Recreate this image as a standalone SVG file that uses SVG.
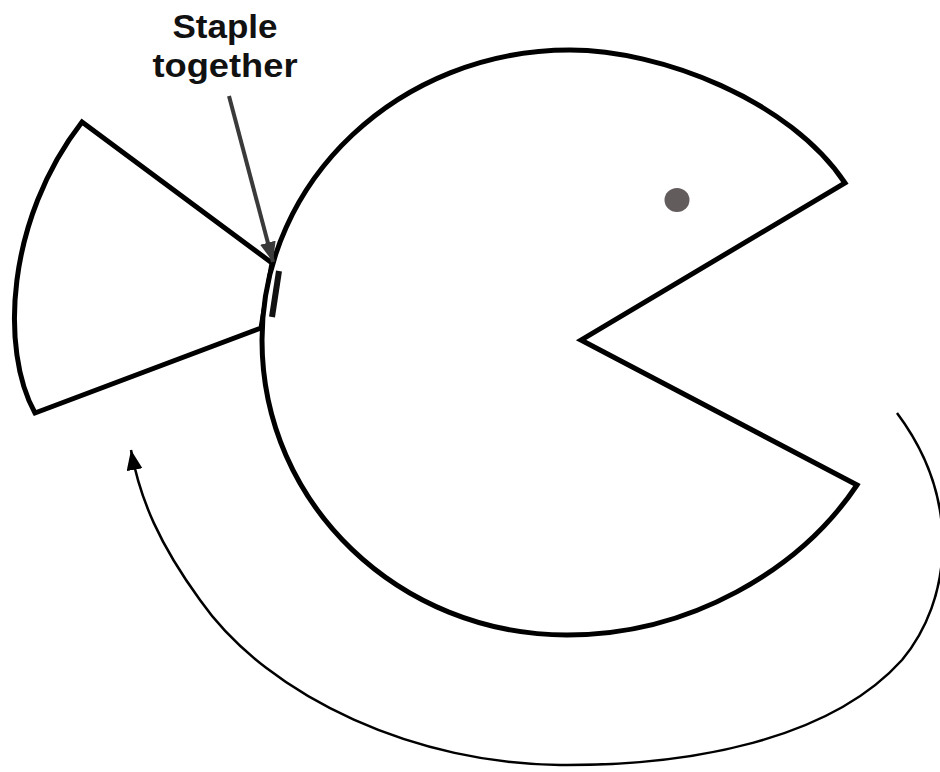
<svg xmlns="http://www.w3.org/2000/svg" width="940" height="772" viewBox="0 0 940 772">
<style>
.shape{fill:#fff;stroke:#000;stroke-width:5;stroke-linejoin:miter}
.lbl{font-family:"Liberation Sans",Arial,sans-serif;font-weight:bold;font-size:33px;fill:#111}
</style>
<defs>
<marker id="ah" markerUnits="userSpaceOnUse" markerWidth="24" markerHeight="20" refX="20" refY="8" orient="auto">
<path d="M0,0 L20,8 L0,16 Z" fill="#000"/>
</marker>
<marker id="ahg" markerUnits="userSpaceOnUse" markerWidth="24" markerHeight="20" refX="20" refY="8" orient="auto">
<path d="M0,0 L20,8 L0,16 Z" fill="#3a3a3a"/>
</marker>
</defs>
<rect width="940" height="772" fill="#fff"/>
<g id="wedge">
<path class="shape" d="M82,122 L272,263 L261,328 L35,413 C0,350 6,220 82,122 Z"/>
</g>
<g id="pacman">
<path class="shape" d="M845,183 C790,100 660,50 570,50 C400,50 262,180 262,340 C262,505 400,635 567,635 C690,635 800,570 857,485 L581,340 Z"/>
<ellipse cx="677" cy="200" rx="12.5" ry="12" fill="#625c5c"/>
</g>
<g id="staple">
<line x1="279" y1="271" x2="272" y2="317" stroke="#111" stroke-width="6"/>
</g>
<g id="label">
<text class="lbl" x="225" y="38" text-anchor="middle" textLength="105" lengthAdjust="spacingAndGlyphs">Staple</text>
<text class="lbl" x="225" y="77" text-anchor="middle" textLength="145" lengthAdjust="spacingAndGlyphs">together</text>
</g>
<g id="connectors" fill="none">
<path d="M229,96 L273,262" stroke="#3a3a3a" stroke-width="4" marker-end="url(#ahg)"/>
<path d="M897,413 C962,500 952,600 902,660 C830,740 690,766 560,765 C420,764 270,700 200,600 C160,545 140,500 131,450" stroke="#000" stroke-width="2.5" marker-end="url(#ah)"/>
</g>
</svg>
